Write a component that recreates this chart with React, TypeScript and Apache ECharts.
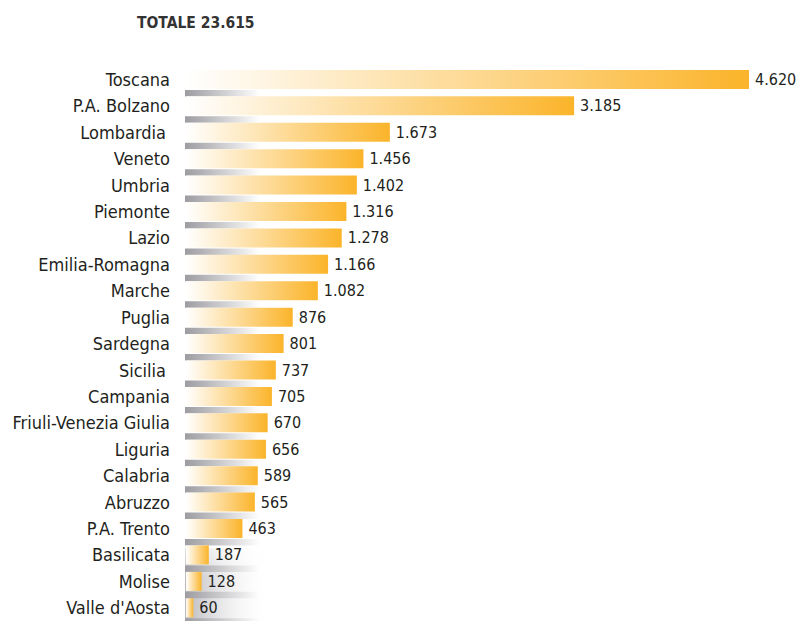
import React, { useEffect, useRef } from "react";
import * as echarts from "echarts";

const categories = [
  "Toscana", "P.A. Bolzano", "Lombardia", "Veneto", "Umbria", "Piemonte", "Lazio",
  "Emilia-Romagna", "Marche", "Puglia", "Sardegna", "Sicilia", "Campania",
  "Friuli-Venezia Giulia", "Liguria", "Calabria", "Abruzzo", "P.A. Trento",
  "Basilicata", "Molise", "Valle d'Aosta",
];
const values = [4620, 3185, 1673, 1456, 1402, 1316, 1278, 1166, 1082, 876, 801, 737, 705, 670, 656, 589, 565, 463, 187, 128, 60];
const titleText = "TOTALE 23.615";

const FONT = "'DejaVu Sans Condensed', 'Liberation Sans Narrow', sans-serif";

function fmt(v: number): string {
  return v.toString().replace(/\B(?=(\d{3})+(?!\d))/g, ".");
}

export default function App() {
  const ref = useRef<HTMLDivElement>(null);
  useEffect(() => {
    if (!ref.current) return;
    const chart = echarts.init(ref.current, null, { renderer: "svg" });
    const barGrad = () =>
      new echarts.graphic.LinearGradient(0, 0, 1, 0, [
        { offset: 0, color: "#ffffff" },
        { offset: 1, color: "#fbb42a" },
      ]);
    const shadowGrad = new echarts.graphic.LinearGradient(0, 0, 1, 0, [
      { offset: 0, color: "#9c9ca1" },
      { offset: 1, color: "#ffffff" },
    ]);
    const padded: Record<string, number> = { Lombardia: 4, Sicilia: 4 };
    chart.setOption({
      animation: false,
      backgroundColor: "#ffffff",
      title: {
        text: titleText,
        left: 132,
        top: 10,
        textStyle: { fontFamily: FONT, fontSize: 15.5, fontWeight: "bold", color: "#333333" },
      },
      graphic: [
        {
          type: "rect",
          z: 0,
          shape: { x: 185, y: 548, width: 85, height: 80 },
          style: {
            fill: new echarts.graphic.LinearGradient(0, 0, 1, 0, [
              { offset: 0, color: "#b8b8bd" },
              { offset: 1, color: "rgba(255,255,255,0)" },
            ]),
          },
        },
        {
          type: "rect",
          z: 0,
          shape: { x: 185, y: 548, width: 85, height: 30 },
          style: {
            fill: new echarts.graphic.LinearGradient(0, 0, 0, 1, [
              { offset: 0, color: "rgba(255,255,255,0.6)" },
              { offset: 1, color: "rgba(255,255,255,0)" },
            ]),
          },
        },
      ],
      grid: { left: 186, top: 66.175, width: 609.3, height: 559.65, containLabel: false },
      xAxis: { type: "value", min: 0, max: 5000, show: false },
      yAxis: {
        type: "category",
        inverse: true,
        data: categories.map((c) =>
          padded[c] ? { value: c, textStyle: { padding: [0, padded[c], 0, 0] } } : c
        ),
        axisLine: { show: false },
        axisTick: { show: false },
        splitLine: { show: false },
        axisLabel: { margin: 16, fontFamily: FONT, fontSize: 18, color: "#231f20" },
      },
      series: [
        {
          type: "custom",
          z: 1,
          silent: true,
          data: categories.map((_, i) => [0, i]),
          encode: { x: 0, y: 1 },
          renderItem: (_params: any, api: any) => {
            const p = api.coord([0, api.value(1)]);
            return {
              type: "rect",
              shape: { x: p[0] - 1, y: p[1] + 10.5, width: 75, height: 6.5 },
              style: { fill: shadowGrad },
            };
          },
        },
        {
          type: "bar",
          z: 2,
          barWidth: 19,
          data: values.map((v) => ({ value: v, itemStyle: { color: barGrad() } })),
          label: {
            show: true,
            position: "right",
            distance: 6,
            fontFamily: FONT,
            fontSize: 16,
            color: "#231f20",
            formatter: (p: any) => fmt(p.value),
          },
        },
      ],
    });
    return () => chart.dispose();
  }, []);
  return (
    <div
      ref={ref}
      style={{ position: "absolute", left: 0, top: 0, width: 799, height: 621 }}
    />
  );
}
